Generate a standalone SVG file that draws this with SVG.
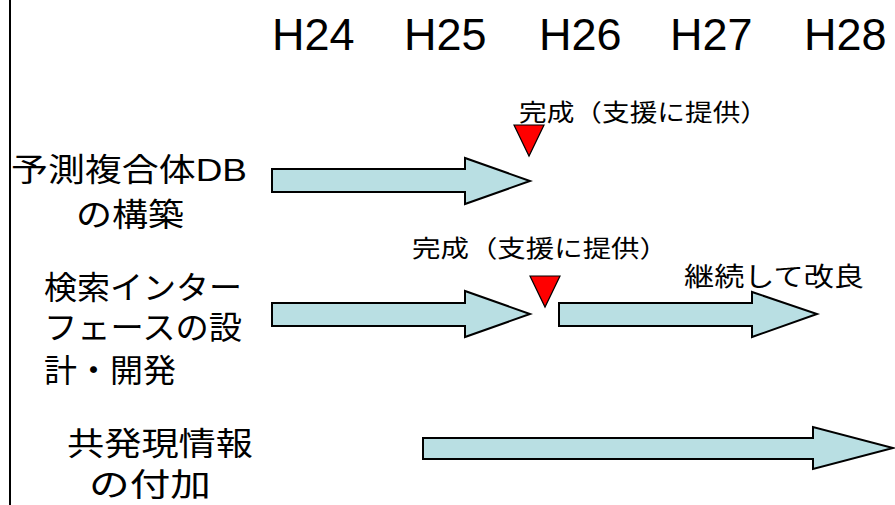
<svg xmlns="http://www.w3.org/2000/svg" width="895" height="505" viewBox="0 0 895 505">
<style>
text{font-family:"Liberation Sans","Noto Sans CJK JP",sans-serif;fill:#000}
.yr{font-size:45px}
.lbl{font-size:32px}
.note{font-size:24px}
.bar{fill:#b9dfe3;stroke:#000;stroke-width:2;stroke-linejoin:miter}
.mark{fill:#ff0000;stroke:#000;stroke-width:1.2}
</style>
<rect width="895" height="505" fill="#fff"/>
<line x1="10" y1="0" x2="10" y2="505" stroke="#000" stroke-width="2"/>
<g id="years">
<text class="yr" x="272" y="50">H24</text>
<text class="yr" x="404" y="50">H25</text>
<text class="yr" x="539" y="50">H26</text>
<text class="yr" x="670" y="50">H27</text>
<text class="yr" x="804" y="50">H28</text>
</g>
<g id="task1">
<text class="lbl" x="11" y="181" textLength="236" lengthAdjust="spacingAndGlyphs">予測複合体DB</text>
<text class="lbl" x="76" y="226" textLength="108" lengthAdjust="spacingAndGlyphs">の構築</text>
<polygon class="bar" points="272,169 465,169 465,158 530,181 465,204 465,192 272,192"/>
<polygon class="mark" points="514,125 544,125 529,156"/>
<text class="note" x="519" y="121" textLength="249" lengthAdjust="spacingAndGlyphs">完成（支援に提供）</text>
</g>
<g id="task2">
<text class="lbl" x="44" y="299" textLength="198" lengthAdjust="spacingAndGlyphs">検索インター</text>
<text class="lbl" x="44" y="339" textLength="198" lengthAdjust="spacingAndGlyphs">フェースの設</text>
<text class="lbl" x="44" y="382" textLength="132" lengthAdjust="spacingAndGlyphs">計・開発</text>
<polygon class="bar" points="272,303 465,303 465,291 530,314 465,337 465,326 272,326"/>
<polygon class="mark" points="530,276 560,276 545,307"/>
<text class="note" x="412" y="257" textLength="256" lengthAdjust="spacingAndGlyphs">完成（支援に提供）</text>
<polygon class="bar" points="559,303 752,303 752,292 817,314 752,337 752,326 559,326"/>
<text class="note" x="684" y="286" style="font-size:26px" textLength="180" lengthAdjust="spacingAndGlyphs">継続して改良</text>
</g>
<g id="task3">
<text class="lbl" x="67" y="455" textLength="186" lengthAdjust="spacingAndGlyphs">共発現情報</text>
<text class="lbl" x="89" y="496" textLength="122" lengthAdjust="spacingAndGlyphs">の付加</text>
<polygon class="bar" points="423,438 813,438 813,427 893,448 813,469 813,459 423,459"/>
</g>
<g id="connectors"></g>
</svg>
